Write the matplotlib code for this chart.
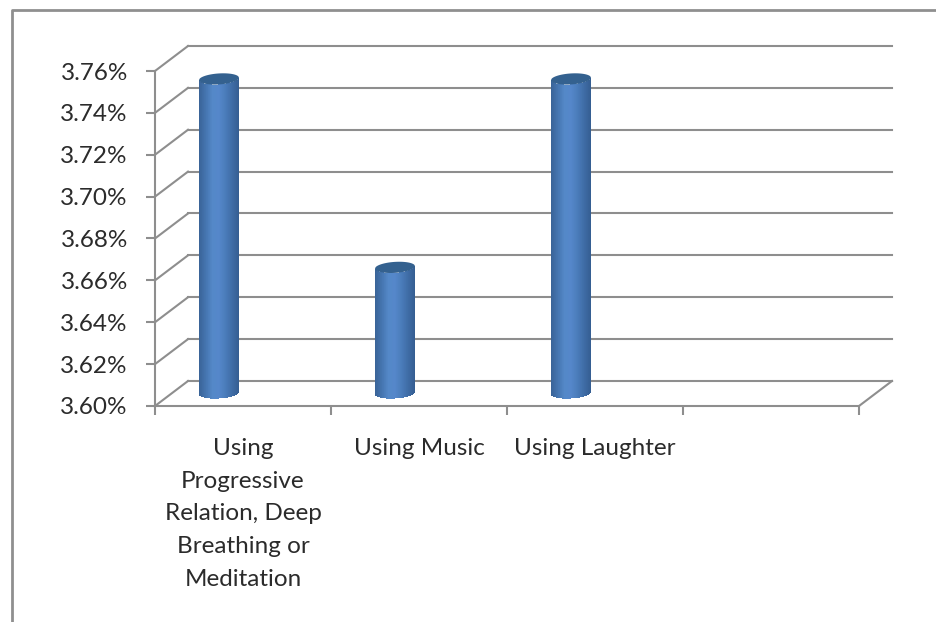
import numpy as np
import matplotlib
matplotlib.use("Agg")
import matplotlib.pyplot as plt
from matplotlib.colors import LinearSegmentedColormap
from matplotlib.transforms import Affine2D, IdentityTransform

categories = ["Using\nProgressive\nRelation, Deep\nBreathing or\nMeditation", "Using Music", "Using Laughter", ""]
values = [3.75, 3.66, 3.75]
y_ticks = [3.60, 3.62, 3.64, 3.66, 3.68, 3.70, 3.72, 3.74, 3.76]
y_floor = y_ticks[0]
y_ceil = y_ticks[-1]

W, H = 936, 622
GRID = "#8e8e8e"
TEXT = "#2b2b2b"

plt.rcParams["font.family"] = ["Lato", "DejaVu Sans"]
fig = plt.figure(figsize=(W / 100, H / 100), dpi=100)
ax = fig.add_axes([155 / W, 1 - 406 / H, 704 / W, 335 / H])
ax.set_xlim(0, len(categories))
ax.set_ylim(y_floor, y_ceil)
ax.patch.set_visible(False)
for name in ["top", "right"]:
    ax.spines[name].set_visible(False)
for name in ["left", "bottom"]:
    ax.spines[name].set_color(GRID)
    ax.spines[name].set_linewidth(1.5)

ax.set_yticks(y_ticks)
ax.set_yticklabels(["%.2f%%" % v for v in y_ticks], fontsize=17.5, color=TEXT)
ax.set_xticks(range(len(categories) + 1))
ax.set_xticklabels([])
ax.tick_params(axis="both", color=GRID, width=1.5, length=6.5, pad=13)
for i, name in enumerate(categories):
    ax.annotate(name, (i + 0.5, y_floor), xytext=(0, -23), textcoords="offset points",
                ha="center", va="top", fontsize=17.5, color=TEXT, linespacing=1.69)

# back wall, side wall and floor lines, pushed back in pixels
depth = Affine2D().translate(33, 25)
px = IdentityTransform()
for v in y_ticks:
    ax.plot([0, 1], [v, v], color=GRID, lw=1.5, clip_on=False,
            transform=ax.get_yaxis_transform() + depth)
    p0 = ax.transData.transform((0, v))
    ax.plot([p0[0], p0[0] + 33], [p0[1], p0[1] + 25], color=GRID, lw=1.5, clip_on=False,
            transform=px)
p1 = ax.transData.transform((len(categories), y_floor))
ax.plot([p1[0], p1[0] + 33], [p1[1], p1[1] + 25], color=GRID, lw=1.5, clip_on=False, transform=px)

# cylinders with slightly tilted elliptical ends
bar_w = 40 / 176
cyl = LinearSegmentedColormap.from_list("cyl", ["#3a6498", "#4575b0", "#5488c8", "#5587ca", "#4a7cba", "#3f6ca6", "#355e92"])
bar_shift = ax.transData + Affine2D().translate(-24, 13)
unit = (y_ceil - y_floor) / 335
ry = 5.5 * unit
tilt = 1.2 * unit
u = np.linspace(-1, 1, 61)
for i, v in enumerate(values):
    cx = i + 0.5
    x = cx + u * bar_w / 2
    sag = ry * np.sqrt(1 - u ** 2)
    yy = np.array([y_floor - sag + tilt * u, v - sag + tilt * u])
    xx = np.array([x, x])
    shade = np.linspace(0, 1, 60).reshape(1, -1)
    ax.pcolormesh(xx, yy, shade, cmap=cyl, shading="flat", transform=bar_shift,
                  clip_on=False, zorder=3)
    ax.fill(np.r_[x, x[::-1]], np.r_[v - sag + tilt * u, (v + sag + tilt * u)[::-1]],
            color="#34618f", lw=0, transform=bar_shift, clip_on=False, zorder=4)

# outer frame, open on the right and at the bottom
fig.add_artist(plt.Line2D([11.5 / W, 11.5 / W, 1], [0, 1 - 9.5 / H, 1 - 9.5 / H],
                          color="#8f8f8f", lw=2, transform=fig.transFigure))

fig.savefig("out.png", dpi=100, facecolor="white")
